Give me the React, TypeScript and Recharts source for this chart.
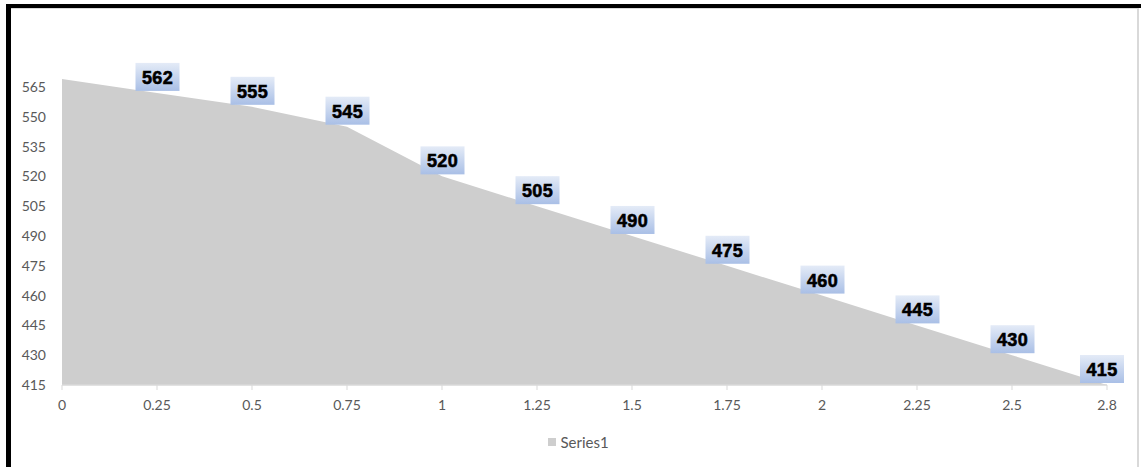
import React from "react";
import { AreaChart, Area, XAxis, YAxis, LabelList, Legend } from "recharts";

// Category positions along the x axis
const categories = ["0", "0.25", "0.5", "0.75", "1", "1.25", "1.5", "1.75", "2", "2.25", "2.5", "2.8"];
// Series1 values at each category
const series1 = [569, 562, 555, 545, 520, 505, 490, 475, 460, 445, 430, 415];
// Value-axis tick labels
const yTicks = [415, 430, 445, 460, 475, 490, 505, 520, 535, 550, 565];

const data = categories.map((c, i) => ({ x: c, Series1: series1[i] }));

const FONT = "Lato, 'Open Sans', sans-serif";
const AXIS_GREY = "#595959";
const TAG_RIGHT_LIMIT = 1124;

const ValueTag = (props: any) => {
  const { x, y, value, index } = props;
  if (index === 0 || x == null || y == null) return null;
  const w = 44;
  const h = 28;
  // keep the last tag inside the frame
  const cx = Math.min(x + 0.5, TAG_RIGHT_LIMIT - w / 2);
  return (
    <g>
      <rect x={cx - w / 2} y={y - h - 2} width={w} height={h} fill="url(#tagFill)" />
      <text
        x={cx}
        y={y - h / 2 - 1}
        textAnchor="middle"
        dominantBaseline="central"
        fontFamily="'Liberation Sans', Arial, sans-serif"
        fontWeight={700}
        fontSize={18}
        letterSpacing={0.4}
        stroke="#000"
        strokeWidth={0.6}
        fill="#000"
      >
        {value}
      </text>
    </g>
  );
};

const LegendBody = () => (
  <div
    style={{
      height: 20,
      display: "flex",
      alignItems: "center",
      justifyContent: "center",
      paddingLeft: 16,
      fontFamily: FONT,
      fontSize: 15,
      color: AXIS_GREY,
    }}
  >
    <span style={{ width: 8, height: 8, background: "#cecece", display: "inline-block", marginRight: 4 }} />
    <span>Series1</span>
  </div>
);

export default function App() {
  return (
    <div style={{ position: "absolute", left: 0, top: 0, width: 1141, height: 467, background: "#fff", overflow: "hidden" }}>
      <AreaChart
        width={1141}
        height={467}
        data={data}
        margin={{ top: 79, right: 34, bottom: 32, left: 0 }}
      >
        <defs>
          <linearGradient id="tagFill" x1="0" y1="0" x2="0" y2="1">
            <stop offset="0%" stopColor="#e4ebf7" />
            <stop offset="100%" stopColor="#a9bfe6" />
          </linearGradient>
        </defs>
        <XAxis
          dataKey="x"
          height={30}
          axisLine={{ stroke: "#d9d9d9", strokeWidth: 1.5 }}
          tickLine={{ stroke: "#d9d9d9" }}
          tickSize={5}
          tickMargin={10}
          tick={{ fill: AXIS_GREY, fontSize: 14, fontFamily: FONT }}
          interval={0}
        />
        <YAxis
          type="number"
          domain={[415, 569]}
          ticks={yTicks}
          width={62}
          axisLine={false}
          tickLine={false}
          tickSize={0}
          tickMargin={16}
          allowDataOverflow
          tick={{ fill: AXIS_GREY, fontSize: 14, fontFamily: FONT }}
        />
        <Legend
          verticalAlign="bottom"
          content={<LegendBody />}
          wrapperStyle={{ top: 432, left: 0, width: 1141, height: 20 }}
        />
        <Area
          type="linear"
          dataKey="Series1"
          stroke="none"
          fill="#cecece"
          fillOpacity={1}
          isAnimationActive={false}
          activeDot={false}
          dot={false}
        >
          <LabelList dataKey="Series1" content={<ValueTag />} />
        </Area>
      </AreaChart>
      {/* frame edges */}
      <div style={{ position: "absolute", left: 6, top: 4, width: 1135, height: 4, background: "#000" }} />
      <div style={{ position: "absolute", left: 11, top: 8, width: 1126, height: 1, background: "#d9d9d9" }} />
      <div style={{ position: "absolute", left: 6, top: 4, width: 5, height: 463, background: "#000" }} />
      <div style={{ position: "absolute", left: 1137, top: 8, width: 2, height: 459, background: "#d9d9d9" }} />
    </div>
  );
}
